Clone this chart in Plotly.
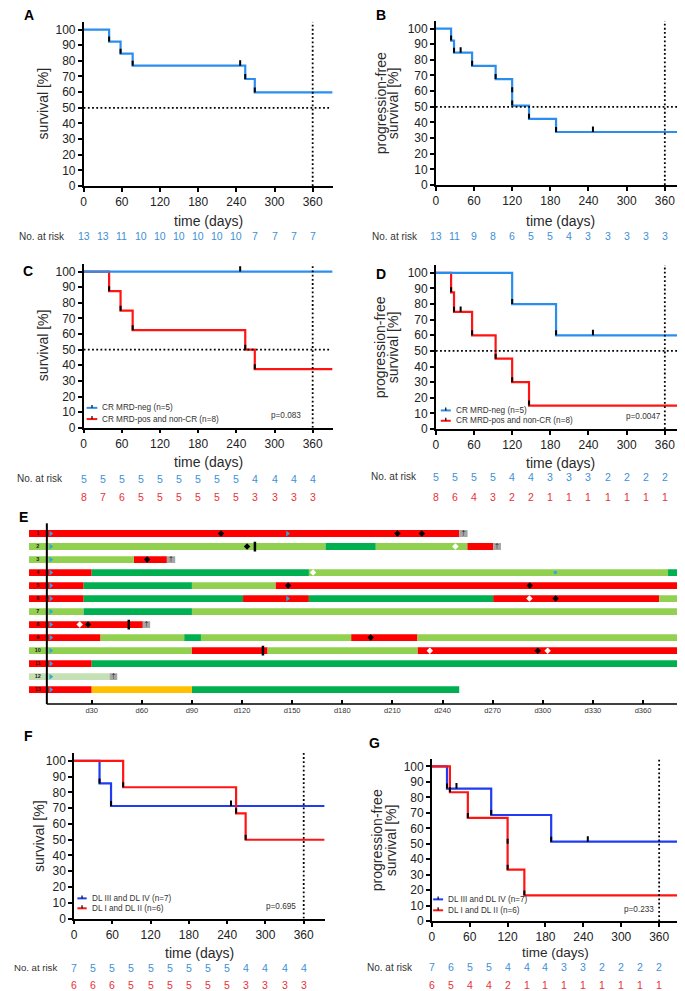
import plotly.graph_objects as go

W, H = 685, 991
FONT = "Liberation Sans, Arial, sans-serif"


def fx(p):
    return p / W


def fy(p):
    return 1 - p / H


# ---------------- data ----------------
x_ticks = [0, 60, 120, 180, 240, 300, 360]
y_ticks = [0, 10, 20, 30, 40, 50, 60, 70, 80, 90, 100]
risk_days = [0, 30, 60, 90, 120, 150, 180, 210, 240, 270, 300, 330, 360]

# A: overall survival, all patients
A_t = [0, 40, 58, 77, 254, 269]
A_s = [100, 92.3, 84.6, 76.9, 68.4, 59.8]
A_cens = [246]
A_risk = [13, 13, 11, 10, 10, 10, 10, 10, 10, 7, 7, 7, 7]

# B: progression-free survival, all patients
B_t = [0, 24, 28.6, 57, 94, 120, 120, 146.5, 189]
B_s = [100, 92.3, 84.6, 76.2, 67.7, 59.3, 50.8, 42.3, 33.9]
B_cens = [39, 247]
B_risk = [13, 11, 9, 8, 6, 5, 5, 4, 3, 3, 3, 3, 3]

# C: OS by MRD
C_neg_t = [0]
C_neg_s = [100]
C_neg_cens = [246]
C_pos_t = [0, 40, 58, 77, 254, 269]
C_pos_s = [100, 87.5, 75, 62.5, 50, 37.5]
C_pos_cens = []
C_neg_risk = [5, 5, 5, 5, 5, 5, 5, 5, 5, 4, 4, 4, 4]
C_pos_risk = [8, 7, 6, 5, 5, 5, 5, 5, 5, 3, 3, 3, 3]
C_p = "p=0.083"

# D: PFS by MRD
D_neg_t = [0, 120, 189]
D_neg_s = [100, 80, 60]
D_neg_cens = [247]
D_pos_t = [0, 24, 28.6, 57, 94, 120, 146.5]
D_pos_s = [100, 87.5, 75, 60, 45, 30, 15]
D_pos_cens = [39]
D_neg_risk = [5, 5, 5, 5, 4, 4, 3, 3, 3, 2, 2, 2, 2]
D_pos_risk = [8, 6, 4, 3, 2, 2, 1, 1, 1, 1, 1, 1, 1]
D_p = "p=0.0047"

# F: OS by dose level
F_hi_t = [0, 40, 58]
F_hi_s = [100, 85.7, 71.4]
F_hi_cens = [246]
F_lo_t = [0, 77, 254, 269]
F_lo_s = [100, 83.3, 66.7, 50]
F_lo_cens = []
F_hi_risk = [7, 5, 5, 5, 5, 5, 5, 5, 5, 4, 4, 4, 4]
F_lo_risk = [6, 6, 6, 5, 5, 5, 5, 5, 5, 3, 3, 3, 3]
F_p = "p=0.695"

# G: PFS by dose level
G_hi_t = [0, 24, 94, 189]
G_hi_s = [100, 85.7, 68.6, 51.4]
G_hi_cens = [39, 247]
G_lo_t = [0, 28.6, 57, 120, 120, 146.5]
G_lo_s = [100, 83.3, 66.7, 50, 33.3, 16.7]
G_lo_cens = []
G_hi_risk = [7, 6, 5, 5, 4, 4, 4, 3, 3, 2, 2, 2, 2]
G_lo_risk = [6, 5, 4, 4, 2, 1, 1, 1, 1, 1, 1, 1, 1]
G_p = "p=0.233"

# E: swimmer plot
E_rows = [1, 2, 3, 4, 5, 6, 7, 8, 9, 10, 11, 12, 13]
E_first_day = -7.5
E_seg_row = [1, 1,
             2, 2, 2, 2, 2,
             3, 3, 3,
             4, 4, 4, 4,
             5, 5, 5, 5,
             6, 6, 6, 6, 6, 6, 6,
             7, 7, 7,
             8, 8,
             9, 9, 9, 9, 9, 9,
             10, 10, 10, 10,
             11, 11,
             12, 12,
             13, 13, 13]
E_seg_end = [250, 255,
             170, 200, 254.8, 270.3, 275,
             55.2, 75, 80,
             30, 160, 375, 392,
             25.2, 90, 140, 392,
             25.2, 120.6, 160, 270.3, 369.7, 384.6, 392,
             25.2, 90, 392,
             60.6, 65,
             35.3, 85.4, 95.4, 185.3, 225, 392,
             89.8, 135.3, 225, 392,
             30, 392,
             40.7, 45.3,
             30, 90, 250]
E_seg_state = ["red", "grey",
               "lgreen", "dgreen", "lgreen", "red", "grey",
               "lgreen", "red", "grey",
               "red", "dgreen", "lgreen", "dgreen",
               "red", "dgreen", "lgreen", "red",
               "red", "dgreen", "red", "dgreen", "red", "lgreen", "dgreen",
               "lgreen", "dgreen", "lgreen",
               "red", "grey",
               "red", "lgreen", "dgreen", "lgreen", "red", "lgreen",
               "lgreen", "red", "lgreen", "red",
               "red", "dgreen",
               "pale", "grey",
               "red", "orange", "dgreen"]
E_black_row = [1, 1, 1, 2, 3, 5, 5, 6, 8, 9, 10]
E_black_day = [107.4, 213, 227.6, 123, 63.2, 147.6, 292.2, 307.7, 27.8, 197, 297]
E_white_row = [2, 4, 6, 8, 10, 10]
E_white_day = [247.7, 162.5, 292, 22.8, 232.4, 302.9]
E_tick_row = [2, 8, 10]
E_tick_day = [127.7, 52.2, 132.5]
E_cyan_row = [1, 2, 3, 4, 5, 6, 7, 8, 9, 10, 11, 12, 13, 1, 6]
E_cyan_day = [5.5, 5.5, 5.5, 5.5, 5.5, 5.5, 5.5, 5.5, 5.5, 5.5, 5.5, 5.5, 5.5, 147.2, 147.2]
E_dot_row = [4]
E_dot_day = [307.5]
E_tick_days = [30, 60, 90, 120, 150, 180, 210, 240, 270, 300, 330, 360]
E_tick_text = ["d30", "d60", "d90", "d120", "d150", "d180", "d210", "d240",
               "d270", "d300", "d330", "d360"]

# ---------------- styles ----------------
BLUE_L = "#2a8eee"
BLUE_D = "#1f3cf2"
RED = "#ff1414"
RISK_BLUE = "#3d8fd6"
RISK_RED = "#e8303a"
TXT = "#222222"
state_color = {"red": "#ff0000", "lgreen": "#92d050", "dgreen": "#00b050",
               "orange": "#ffc000", "grey": "#a6a6a6", "pale": "#c5e0b4"}

fig = go.Figure()
layout = dict(width=W, height=H, margin=dict(l=0, r=0, t=0, b=0),
              plot_bgcolor="white", paper_bgcolor="white", showlegend=False,
              barmode="overlay", font=dict(family=FONT, color=TXT))
annotations = []
shapes = []

axis_common = dict(showline=True, linewidth=1.5, linecolor="black", ticks="outside",
                   ticklen=4, tickwidth=1.5, tickcolor="black", showgrid=False,
                   zeroline=False, fixedrange=True,
                   tickfont=dict(size=12, color=TXT, family=FONT))


def km_axes(n, p0x, p360x, pendx, p0y, p100y):
    xmax = (pendx - p0x) / (p360x - p0x) * 360
    ppu = (p0y - p100y) / 100
    ytop = p100y - 5 * ppu
    sfx = "" if n == 1 else str(n)
    layout["xaxis" + sfx] = dict(domain=[fx(p0x), fx(pendx)], range=[0, xmax],
                                 anchor="y" + sfx, tickvals=x_ticks, **axis_common)
    layout["yaxis" + sfx] = dict(domain=[fy(p0y), fy(ytop)], range=[0, 105],
                                 anchor="x" + sfx, tickvals=y_ticks, **axis_common)
    return ("x" + sfx, "y" + sfx), xmax


def km_line(ax, t, s, xend, color):
    fig.add_trace(go.Scatter(x=list(t) + [xend], y=list(s) + [s[-1]], mode="lines",
                             line=dict(shape="hv", color=color, width=2.2),
                             xaxis=ax[0], yaxis=ax[1], hoverinfo="skip"))


def km_marks(ax, t, s, cens):
    mx, my = [], []
    for ti, si in zip(t[1:], s[1:]):
        mx += [ti, ti, None]
        my += [si, si + 3.2, None]
    for c in cens:
        lvl = [si for ti, si in zip(t, s) if ti <= c][-1]
        mx += [c, c, None]
        my += [lvl, lvl + 3.5, None]
    if mx:
        fig.add_trace(go.Scatter(x=mx, y=my, mode="lines",
                                 line=dict(color="black", width=2),
                                 xaxis=ax[0], yaxis=ax[1], hoverinfo="skip"))


DOT = dict(color="black", width=1.8, dash="1.8px,2.4px")


def ref_lines(ax, horizontal=True):
    if horizontal:
        shapes.append(dict(type="line", xref=ax[0], yref=ax[1], x0=0, x1=386, y0=50, y1=50,
                           line=DOT))
    shapes.append(dict(type="line", xref=ax[0], yref=ax[1], x0=360, x1=360, y0=0, y1=105,
                       line=DOT))


def text(xp, yp, s, size, color=TXT, xanchor="center", angle=0, bold=False, xref="paper"):
    annotations.append(dict(x=xp if xref != "paper" else fx(xp), xref=xref,
                            y=fy(yp), yref="paper",
                            text=("<b>%s</b>" % s) if bold else s, showarrow=False,
                            textangle=angle, xanchor=xanchor, yanchor="middle",
                            font=dict(size=size, color=color, family=FONT)))


def risk_row(ax, values, ypx, color):
    for d, v in zip(risk_days, values):
        text(d, ypx, str(v), 10.5, color=color, xref=ax[0])


def legend(x0, x1, y1, y2, c1, c2, t1, t2):
    for yy, cc, tt in ((y1, c1, t1), (y2, c2, t2)):
        shapes.append(dict(type="line", xref="paper", yref="paper", x0=fx(x0), x1=fx(x1),
                           y0=fy(yy), y1=fy(yy), line=dict(color=cc, width=2)))
        xm = (x0 + x1) / 2
        shapes.append(dict(type="line", xref="paper", yref="paper", x0=fx(xm), x1=fx(xm),
                           y0=fy(yy), y1=fy(yy - 3), line=dict(color="black", width=1.2)))
        text(x1 + 3, yy, tt, 8.2, color="#333333", xanchor="left")


TITLE = "#2a2a2a"

# ---------------- panel A ----------------
axA, xmA = km_axes(1, 73, 303, 323, 179.3, 21.7)
km_line(axA, A_t, A_s, xmA, BLUE_L)
km_marks(axA, A_t, A_s, A_cens)
ref_lines(axA)
text(31.7, 96.5, "survival [%]", 14, color=TITLE, angle=-90)
text(198, 215, "time (days)", 14, color=TITLE)
text(56, 230, "No. at risk", 10, color="#333333", xanchor="right")
risk_row(axA, A_risk, 230, RISK_BLUE)

# ---------------- panel B ----------------
axB, xmB = km_axes(2, 426.7, 656.7, 676.7, 178.3, 20.7)
km_line(axB, B_t, B_s, xmB, BLUE_L)
km_marks(axB, B_t, B_s, B_cens)
ref_lines(axB)
text(371, 95.5, "progression-free", 14, color=TITLE, angle=-90)
text(384, 95.5, "survival [%]", 14, color=TITLE, angle=-90)
text(551.7, 215, "time (days)", 14, color=TITLE)
text(411, 230, "No. at risk", 10, color="#333333", xanchor="right")
risk_row(axB, B_risk, 230, RISK_BLUE)

# ---------------- panel C ----------------
axC, xmC = km_axes(3, 73, 303, 323, 422.7, 265.5)
km_line(axC, C_pos_t, C_pos_s, xmC, RED)
km_line(axC, C_neg_t, C_neg_s, xmC, BLUE_L)
km_marks(axC, C_pos_t, C_pos_s, C_pos_cens)
km_marks(axC, C_neg_t, C_neg_s, C_neg_cens)
ref_lines(axC)
text(31.7, 340, "survival [%]", 14, color=TITLE, angle=-90)
text(198, 457.7, "time (days)", 14, color=TITLE)
text(54, 474, "No. at risk", 10, color="#333333", xanchor="right")
risk_row(axC, C_neg_risk, 474, RISK_BLUE)
risk_row(axC, C_pos_risk, 492.7, RISK_RED)
legend(76, 86.7, 402.7, 414, BLUE_L, RED, "CR MRD-neg (n=5)", "CR MRD-pos and non-CR (n=8)")
text(276, 410, C_p, 8.2, color="#333333")

# ---------------- panel D ----------------
axD, xmD = km_axes(4, 426.7, 656.7, 676.7, 424, 266.7)
km_line(axD, D_pos_t, D_pos_s, xmD, RED)
km_line(axD, D_neg_t, D_neg_s, xmD, BLUE_L)
km_marks(axD, D_pos_t, D_pos_s, D_pos_cens)
km_marks(axD, D_neg_t, D_neg_s, D_neg_cens)
ref_lines(axD)
text(371, 341.4, "progression-free", 14, color=TITLE, angle=-90)
text(384, 341.4, "survival [%]", 14, color=TITLE, angle=-90)
text(551.7, 458, "time (days)", 14, color=TITLE)
text(410, 472, "No. at risk", 10, color="#333333", xanchor="right")
risk_row(axD, D_neg_risk, 472, RISK_BLUE)
risk_row(axD, D_pos_risk, 492, RISK_RED)
legend(431.7, 441.7, 405.3, 415.7, BLUE_L, RED, "CR MRD-neg (n=5)", "CR MRD-pos and non-CR (n=8)")
text(635, 411, D_p, 8.2, color="#333333")

# ---------------- panel F ----------------
axF, xmF = km_axes(6, 63.3, 294, 315, 917, 758.3)
km_line(axF, F_hi_t, F_hi_s, xmF, BLUE_D)
km_line(axF, F_lo_t, F_lo_s, xmF, RED)
km_marks(axF, F_hi_t, F_hi_s, F_hi_cens)
km_marks(axF, F_lo_t, F_lo_s, F_lo_cens)
ref_lines(axF, horizontal=False)
text(28.3, 833.7, "survival [%]", 14, color=TITLE, angle=-90)
text(189, 951.5, "time (days)", 14, color=TITLE)
text(1.5, 966, "No. at risk", 9.6, color="#333333", xanchor="left")
risk_row(axF, F_hi_risk, 966.5, RISK_BLUE)
risk_row(axF, F_lo_risk, 984.3, RISK_RED)
legend(66.7, 76, 896.7, 906.7, BLUE_D, RED, "DL III and DL IV (n=7)", "DL I and DL II (n=6)")
text(270.7, 905.3, F_p, 8.2, color="#333333")

# ---------------- panel G ----------------
axG, xmG = km_axes(7, 422.7, 651, 671, 919.7, 763.8)
km_line(axG, G_hi_t, G_hi_s, xmG, BLUE_D)
km_line(axG, G_lo_t, G_lo_s, xmG, RED)
km_marks(axG, G_hi_t, G_hi_s, G_hi_cens)
km_marks(axG, G_lo_t, G_lo_s, G_lo_cens)
ref_lines(axG, horizontal=False)
text(367, 837.8, "progression-free", 14, color=TITLE, angle=-90)
text(382, 837.8, "survival [%]", 14, color=TITLE, angle=-90)
text(546.9, 951.5, "time (days)", 13.5, color=TITLE)
text(406, 966, "No. at risk", 10, color="#333333", xanchor="right")
risk_row(axG, G_hi_risk, 966, RISK_BLUE)
risk_row(axG, G_lo_risk, 984, RISK_RED)
legend(424, 434, 897.7, 908.7, BLUE_D, RED, "DL III and DL IV (n=7)", "DL I and DL II (n=6)")
text(631, 907.7, G_p, 8.2, color="#333333")

# ---------------- panel E (swimmer plot) ----------------
E_x_left, E_x_right = 18, 685
E_day_min = (E_x_left - 30.7) / 1.678
E_day_max = (E_x_right - 30.7) / 1.678
row0_px, row_step = 529.3, 13.1
E_axis_px = 701
E_top_px = 515
layout["xaxis5"] = dict(domain=[fx(E_x_left), fx(E_x_right)], range=[E_day_min, E_day_max],
                        anchor="y5", showline=False, showgrid=False, zeroline=False,
                        ticks="inside", ticklen=4, tickwidth=1.5, tickcolor="black",
                        tickvals=E_tick_days, ticktext=E_tick_text, fixedrange=True,
                        tickfont=dict(size=7.5, color="#333333", family=FONT))
layout["xaxis8"] = dict(domain=[fx(E_x_left), fx(E_x_right)], range=[E_day_min, E_day_max],
                        anchor="y5", overlaying="x5", showline=False, showgrid=False,
                        zeroline=False, ticks="outside", ticklen=4, tickwidth=1.5,
                        tickcolor="black", tickvals=E_tick_days, showticklabels=False,
                        fixedrange=True)
layout["yaxis5"] = dict(domain=[fy(E_axis_px), fy(E_top_px)],
                        range=[1 + (E_axis_px - row0_px) / row_step,
                               1 + (E_top_px - row0_px) / row_step],
                        anchor="x5", visible=False, fixedrange=True)

seg_start = []
prev_row = None
prev_end = None
for r, e in zip(E_seg_row, E_seg_end):
    seg_start.append(E_first_day if r != prev_row else prev_end)
    prev_row, prev_end = r, e

for st in ["red", "lgreen", "dgreen", "orange", "pale", "grey"]:
    ys, bs, ls = [], [], []
    for r, s0, e, k in zip(E_seg_row, seg_start, E_seg_end, E_seg_state):
        if k == st:
            ys.append(r)
            bs.append(s0)
            ls.append(e - s0)
    fig.add_trace(go.Bar(y=ys, x=ls, base=bs, orientation="h", width=0.53,
                         marker=dict(color=state_color[st], line=dict(width=0)),
                         xaxis="x5", yaxis="y5", hoverinfo="skip"))

# death daggers on grey boxes
dx, dy = [], []
for r, s0, e, k in zip(E_seg_row, seg_start, E_seg_end, E_seg_state):
    if k == "grey":
        dx.append((s0 + e) / 2)
        dy.append(r)
fig.add_trace(go.Scatter(x=dx, y=dy, mode="text", text=["†"] * len(dx),
                         textfont=dict(size=7, color="#222222", family=FONT),
                         xaxis="x5", yaxis="y5", hoverinfo="skip"))

# row labels
fig.add_trace(go.Scatter(x=[-2.3] * len(E_rows), y=E_rows, mode="text",
                         text=["<b>%d</b>" % r for r in E_rows],
                         textfont=dict(size=5.5, color="#1a1a1a", family=FONT),
                         xaxis="x5", yaxis="y5", hoverinfo="skip"))
fig.add_trace(go.Scatter(x=E_cyan_day, y=E_cyan_row, mode="markers",
                         marker=dict(symbol="triangle-right", size=5, color="#29abe2"),
                         xaxis="x5", yaxis="y5", hoverinfo="skip"))
fig.add_trace(go.Scatter(x=E_dot_day, y=E_dot_row, mode="markers",
                         marker=dict(symbol="circle", size=3.5, color="#29abe2"),
                         xaxis="x5", yaxis="y5", hoverinfo="skip"))
fig.add_trace(go.Scatter(x=E_black_day, y=E_black_row, mode="markers",
                         marker=dict(symbol="diamond", size=5, color="black"),
                         xaxis="x5", yaxis="y5", hoverinfo="skip"))
fig.add_trace(go.Scatter(x=E_white_day, y=E_white_row, mode="markers",
                         marker=dict(symbol="diamond", size=5, color="white"),
                         xaxis="x5", yaxis="y5", hoverinfo="skip"))
fig.add_trace(go.Scatter(x=E_tick_day, y=E_tick_row, mode="markers",
                         marker=dict(symbol="line-ns", size=7,
                                     line=dict(color="black", width=2.5)),
                         xaxis="x5", yaxis="y5", hoverinfo="skip"))

# E axis lines
shapes.append(dict(type="line", xref="paper", yref="paper", x0=fx(36), x1=1,
                   y0=fy(E_axis_px), y1=fy(E_axis_px), line=dict(color="black", width=1.5)))
shapes.append(dict(type="line", xref="paper", yref="paper", x0=fx(36), x1=fx(36),
                   y0=fy(519), y1=fy(E_axis_px), line=dict(color="black", width=2)))

# panel letters
for lt, xp, yp in (("A", 18, 7.5), ("B", 372, 7.5), ("C", 17.5, 265), ("D", 371.5, 268),
                   ("E", 12.5, 512.5), ("F", 17.5, 733), ("G", 365, 740)):
    text(xp, yp, lt, 14, color="black", bold=True)

layout["annotations"] = annotations
layout["shapes"] = shapes
fig.update_layout(**layout)
fig.write_html("out.html")
